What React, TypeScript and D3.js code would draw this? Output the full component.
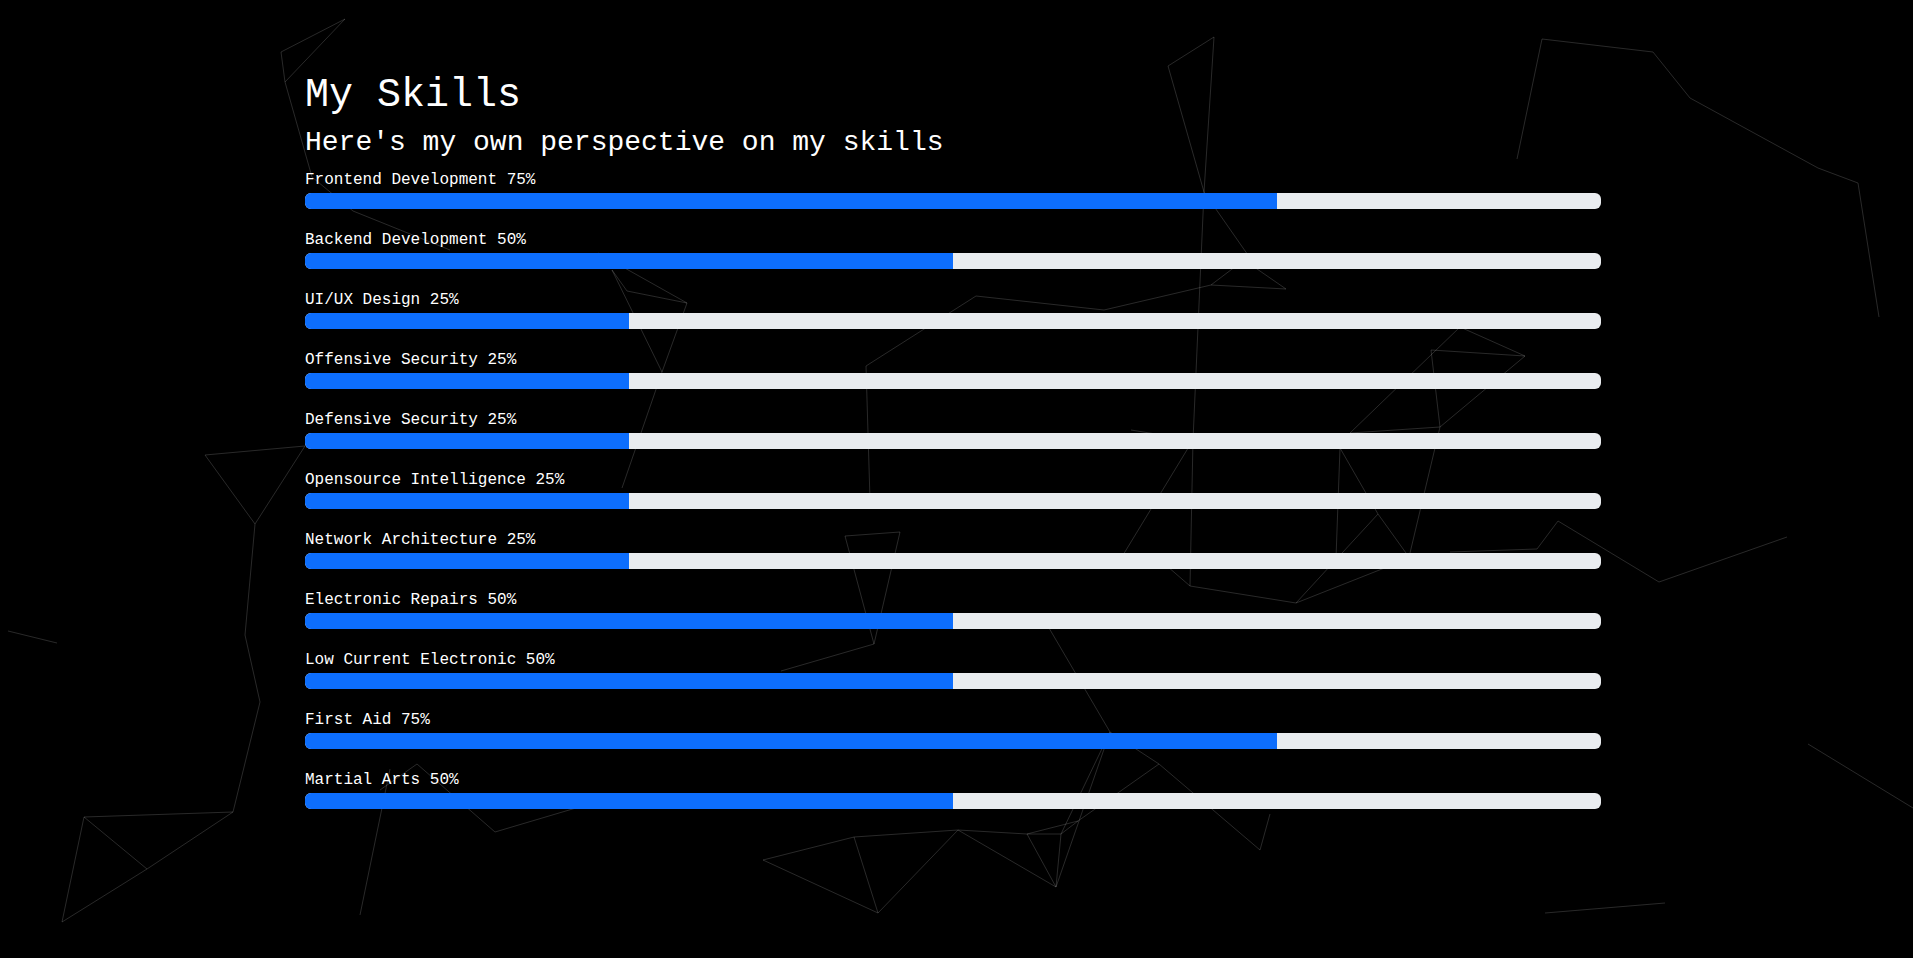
import React from "react";
import * as d3 from "d3";

// skill names and self-rated levels (percent)
const skills = [
  "Frontend Development",
  "Backend Development",
  "UI/UX Design",
  "Offensive Security",
  "Defensive Security",
  "Opensource Intelligence",
  "Network Architecture",
  "Electronic Repairs",
  "Low Current Electronic",
  "First Aid",
  "Martial Arts",
];
const levels = [75, 50, 25, 25, 25, 25, 25, 50, 50, 75, 50];

const title = "My Skills";
const subtitle = "Here's my own perspective on my skills";

// decorative particle-network background, [x1, y1, x2, y2]
const networkLines: number[][] = [
  [281, 52, 345, 19], [281, 52, 285, 82], [285, 82, 345, 19], [285, 82, 312, 177],
  [312, 177, 353, 211], [353, 211, 450, 250], [598, 253, 687, 303], [612, 270, 627, 291],
  [627, 291, 687, 303], [687, 303, 662, 372], [612, 270, 662, 372], [662, 372, 622, 488],
  [205, 455, 305, 446], [205, 455, 255, 524], [255, 524, 305, 446], [255, 524, 245, 635],
  [245, 635, 260, 702], [260, 702, 233, 812], [233, 812, 84, 817], [233, 812, 147, 869],
  [147, 869, 62, 922], [62, 922, 84, 817], [84, 817, 147, 869], [8, 631, 57, 643],
  [390, 769, 360, 915], [417, 764, 495, 832], [495, 832, 586, 805], [417, 764, 380, 790],
  [845, 536, 900, 532], [845, 536, 874, 644], [900, 532, 874, 644], [874, 644, 781, 671],
  [866, 366, 976, 296], [976, 296, 1104, 310], [1104, 310, 1211, 285], [866, 366, 870, 500],
  [1168, 66, 1214, 37], [1168, 66, 1204, 192], [1214, 37, 1204, 192], [1204, 192, 1257, 268],
  [1211, 285, 1286, 289], [1211, 285, 1244, 260], [1244, 260, 1286, 289], [1204, 192, 1193, 440],
  [1193, 440, 1190, 586], [1131, 430, 1193, 440], [1193, 440, 1120, 560],
  [1431, 350, 1525, 356], [1460, 327, 1525, 356], [1431, 350, 1440, 427], [1525, 356, 1440, 427],
  [1440, 427, 1350, 433], [1460, 327, 1350, 433], [1340, 448, 1378, 514], [1378, 514, 1406, 553],
  [1378, 514, 1296, 603], [1440, 427, 1410, 553], [1340, 448, 1336, 558],
  [1190, 586, 1296, 603], [1296, 603, 1387, 567], [1160, 560, 1190, 586],
  [1558, 521, 1659, 582], [1659, 582, 1787, 537], [1537, 549, 1558, 521], [1450, 552, 1537, 549],
  [1542, 39, 1653, 52], [1653, 52, 1690, 98], [1690, 98, 1818, 168], [1818, 168, 1858, 183],
  [1858, 183, 1879, 317], [1542, 39, 1517, 159], [1808, 744, 1913, 808], [1545, 913, 1665, 903],
  [1049, 628, 1110, 732], [1110, 732, 1159, 764], [1159, 764, 1260, 850], [1260, 850, 1270, 814],
  [1159, 764, 1078, 821], [1110, 732, 1056, 887], [1110, 732, 1061, 834], [1078, 821, 1027, 834],
  [763, 860, 854, 837], [854, 837, 878, 913], [763, 860, 878, 913], [854, 837, 958, 830],
  [878, 913, 958, 830], [958, 830, 1027, 834], [958, 830, 1056, 887], [1027, 834, 1056, 887],
  [1061, 834, 1056, 887], [1027, 834, 1061, 834], [1061, 834, 1078, 821],
];

const WIDTH = 1913;
const HEIGHT = 958;
const FONT = "'Liberation Mono', 'Courier New', monospace";

export default function App() {
  const left = 305;
  const barWidth = 1296;
  const barHeight = 16;
  const step = 60;
  const firstBar = 193;

  const x = d3.scaleLinear().domain([0, 100]).range([0, barWidth]);
  const y = d3
    .scaleBand<string>()
    .domain(skills)
    .range([firstBar, firstBar + step * skills.length])
    .paddingInner(0)
    .paddingOuter(0);

  return (
    <div style={{ position: "fixed", inset: 0, background: "#000", overflow: "hidden" }}>
      <svg width={WIDTH} height={HEIGHT} style={{ display: "block" }}>
        <defs>
          {skills.map((s, i) => (
            <clipPath id={`bar-clip-${i}`} key={s}>
              <rect x={left} y={y(s)} width={barWidth} height={barHeight} rx={6} ry={6} />
            </clipPath>
          ))}
        </defs>
        <rect width={WIDTH} height={HEIGHT} fill="#000" />

        <g stroke="#ffffff" strokeOpacity={0.16} strokeWidth={1} fill="none">
          {networkLines.map((l, i) => (
            <line key={i} x1={l[0]} y1={l[1]} x2={l[2]} y2={l[3]} />
          ))}
        </g>

        <text x={left} y={106} fill="#fff" fontFamily={FONT} fontSize={40}>
          {title}
        </text>
        <text x={left} y={150} fill="#fff" fontFamily={FONT} fontSize={28}>
          {subtitle}
        </text>

        {skills.map((s, i) => {
          const top = y(s) ?? 0;
          return (
            <g key={s}>
              <text x={left} y={top - 9} fill="#fff" fontFamily={FONT} fontSize={16}>
                {`${s} ${levels[i]}%`}
              </text>
              <g clipPath={`url(#bar-clip-${i})`}>
                <rect x={left} y={top} width={x(100)} height={barHeight} fill="#e9ecef" />
                <rect x={left} y={top} width={x(levels[i])} height={barHeight} fill="#0d6efd" />
              </g>
            </g>
          );
        })}
      </svg>
    </div>
  );
}
